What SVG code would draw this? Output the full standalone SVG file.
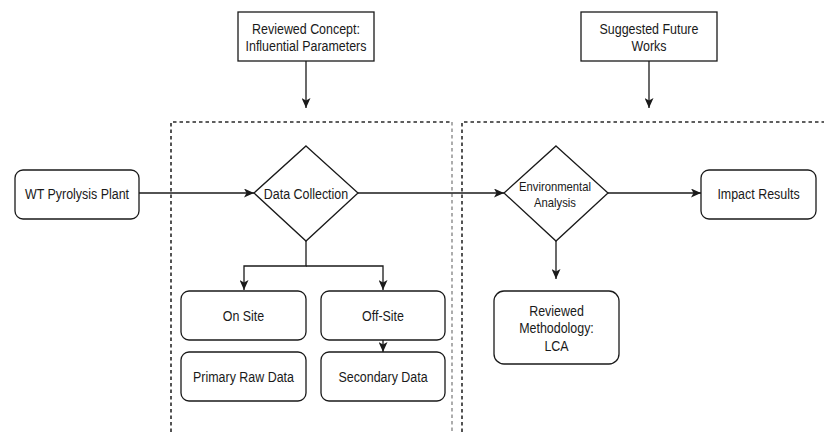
<svg xmlns="http://www.w3.org/2000/svg" width="824" height="432" viewBox="0 0 824 432">
<defs>
<style>
.box{fill:#fff;stroke:#1a1a1a;stroke-width:1.3}
.ln{fill:none;stroke:#1a1a1a;stroke-width:1.3}
.dash{fill:none;stroke:#2a2a2a;stroke-width:1.6;stroke-dasharray:3.5 3}
.dashg{fill:none;stroke:#8a8a8a;stroke-width:1.4;stroke-dasharray:3.5 3}
.t{font-family:"Liberation Sans",Arial,sans-serif;font-size:15px;fill:#1a1a1a;text-anchor:middle}
.ts{font-family:"Liberation Sans",Arial,sans-serif;font-size:13.6px;fill:#1a1a1a;text-anchor:middle}
</style>
<marker id="ah" viewBox="0 0 10 9" refX="10" refY="4.5" markerWidth="10" markerHeight="9" markerUnits="userSpaceOnUse" orient="auto">
<path d="M0,0 L10,4.5 L0,9 L2.5,4.5 Z" fill="#1a1a1a"/>
</marker>
</defs>
<rect width="824" height="432" fill="#fff"/>
<g id="regions">
<path class="dash" d="M171,432 L171,122 L452,122"/>
<path class="dashg" d="M452,122 L452,432"/>
<path class="dash" d="M462,432 L462,122 L824,122"/>
</g>
<g id="connectors">
<path class="ln" d="M306,61 L306,108" marker-end="url(#ah)"/>
<path class="ln" d="M649,61 L649,108" marker-end="url(#ah)"/>
<path class="ln" d="M139,193 L254,193" marker-end="url(#ah)"/>
<path class="ln" d="M358,193 L504,193" marker-end="url(#ah)"/>
<path class="ln" d="M608,193 L701,193" marker-end="url(#ah)"/>
<path class="ln" d="M306,241 L306,266 L244,266 L244,290" marker-end="url(#ah)"/>
<path class="ln" d="M306,266 L383,266 L383,290" marker-end="url(#ah)"/>
<path class="ln" d="M383,340 L383,352" marker-end="url(#ah)"/>
<path class="ln" d="M556,241 L556,279" marker-end="url(#ah)"/>
</g>
<g id="reviewed-concept">
<rect class="box" x="238" y="12" width="136" height="49"/>
<text class="t" transform="translate(306,34) scale(0.83,1)">Reviewed Concept:</text>
<text class="t" transform="translate(306,51) scale(0.83,1)">Influential Parameters</text>
</g>
<g id="suggested-future">
<rect class="box" x="581" y="12" width="136" height="49"/>
<text class="t" transform="translate(649,34) scale(0.83,1)">Suggested Future</text>
<text class="t" transform="translate(649,51) scale(0.83,1)">Works</text>
</g>
<g id="wt-plant">
<rect class="box" x="15" y="170" width="124" height="49" rx="8"/>
<text class="t" transform="translate(77,198.5) scale(0.83,1)">WT Pyrolysis Plant</text>
</g>
<g id="data-collection">
<path class="box" d="M306,146 L358,193 L306,241 L254,193 Z"/>
<text class="t" transform="translate(306,198.5) scale(0.83,1)">Data Collection</text>
</g>
<g id="env-analysis">
<path class="box" d="M556,146 L608,193 L556,241 L504,193 Z"/>
<text class="ts" transform="translate(555,190.5) scale(0.83,1)">Environmental</text>
<text class="ts" transform="translate(555,206.5) scale(0.83,1)">Analysis</text>
</g>
<g id="impact-results">
<rect class="box" x="701" y="170" width="115" height="49" rx="8"/>
<text class="t" transform="translate(758.5,198.5) scale(0.83,1)">Impact Results</text>
</g>
<g id="on-site">
<rect class="box" x="181" y="291" width="125" height="49" rx="8"/>
<text class="t" transform="translate(243.5,320.5) scale(0.83,1)">On Site</text>
</g>
<g id="off-site">
<rect class="box" x="321" y="291" width="124" height="49" rx="8"/>
<text class="t" transform="translate(383,320.5) scale(0.83,1)">Off-Site</text>
</g>
<g id="primary-raw">
<rect class="box" x="181" y="352" width="125" height="49" rx="8"/>
<text class="t" transform="translate(243.5,381.5) scale(0.83,1)">Primary Raw Data</text>
</g>
<g id="secondary">
<rect class="box" x="321" y="352" width="124" height="49" rx="8"/>
<text class="t" transform="translate(383,381.5) scale(0.83,1)">Secondary Data</text>
</g>
<g id="methodology">
<rect class="box" x="494" y="291" width="125" height="73" rx="10"/>
<text class="t" transform="translate(556.5,315.5) scale(0.83,1)">Reviewed</text>
<text class="t" transform="translate(556.5,333) scale(0.83,1)">Methodology:</text>
<text class="t" transform="translate(556.5,350.5) scale(0.83,1)">LCA</text>
</g>
</svg>
